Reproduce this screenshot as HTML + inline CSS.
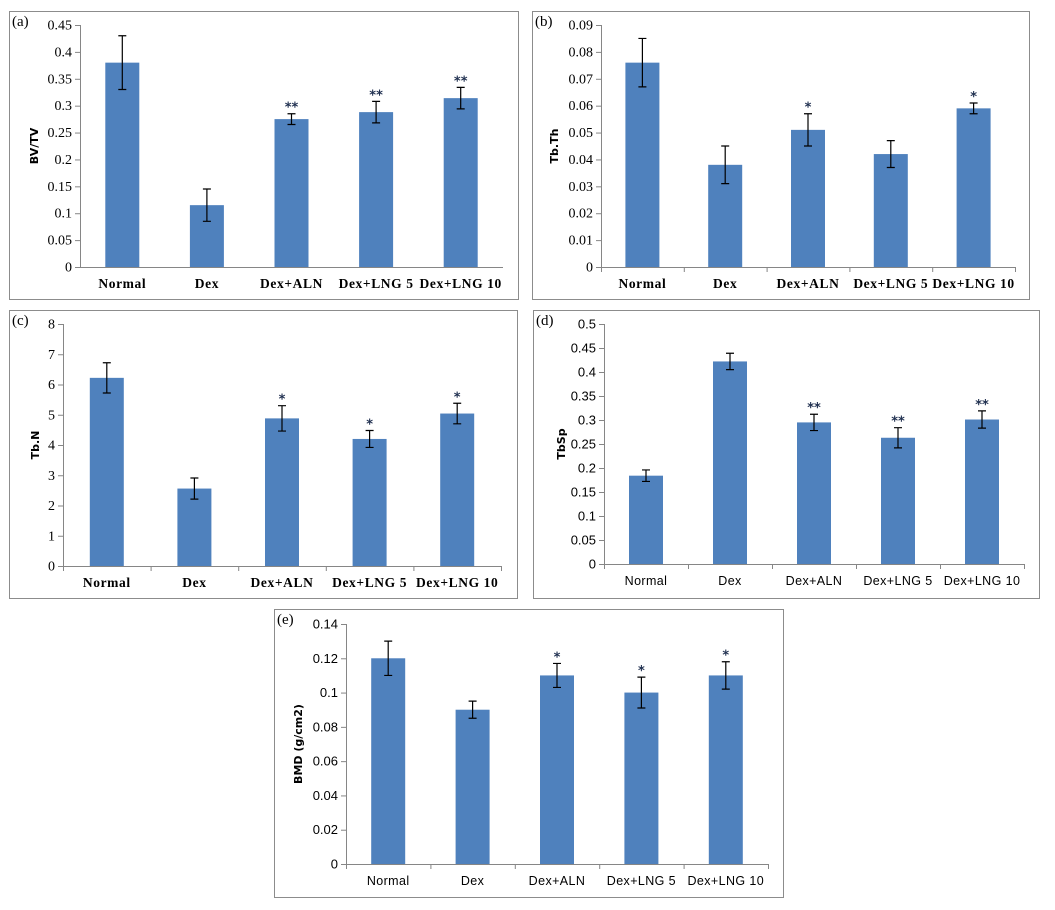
<!DOCTYPE html>
<html><head><meta charset="utf-8">
<style>
body{margin:0;background:#fff;width:1055px;height:910px;overflow:hidden}
svg{display:block}
</style></head>
<body>
<svg id="fig" width="1055" height="910" xmlns="http://www.w3.org/2000/svg"></svg>
<script>
const categories = ["Normal","Dex","Dex+ALN","Dex+LNG 5","Dex+LNG 10"];
const aValues = [0.38,0.115,0.275,0.288,0.314];
const aErr = [0.05,0.03,0.01,0.02,0.02];
const aStars = ["","","**","**","**"];
const aTicks = ["0","0.05","0.1","0.15","0.2","0.25","0.3","0.35","0.4","0.45"];
const bValues = [0.076,0.038,0.051,0.042,0.059];
const bErr = [0.009,0.007,0.006,0.005,0.002];
const bStars = ["","","*","","*"];
const bTicks = ["0","0.01","0.02","0.03","0.04","0.05","0.06","0.07","0.08","0.09"];
const cValues = [6.22,2.56,4.88,4.2,5.04];
const cErr = [0.5,0.35,0.42,0.28,0.34];
const cStars = ["","","*","*","*"];
const cTicks = ["0","1","2","3","4","5","6","7","8"];
const dValues = [0.184,0.422,0.295,0.263,0.301];
const dErr = [0.012,0.017,0.017,0.021,0.018];
const dStars = ["","","**","**","**"];
const dTicks = ["0","0.05","0.1","0.15","0.2","0.25","0.3","0.35","0.4","0.45","0.5"];
const eValues = [0.12,0.09,0.11,0.1,0.11];
const eErr = [0.01,0.005,0.007,0.009,0.008];
const eStars = ["","","*","*","*"];
const eTicks = ["0","0.02","0.04","0.06","0.08","0.1","0.12","0.14"];

const NS='http://www.w3.org/2000/svg';
const svg=document.getElementById('fig');
function mk(tag,attrs,parent){const e=document.createElementNS(NS,tag);for(const k in attrs)e.setAttribute(k,attrs[k]);(parent||svg).appendChild(e);return e;}

function panel(p){
  const g=mk('g',{});
  
  
  const box=mk('rect',{x:p.box[0]+0.5,y:p.box[1]+0.5,width:p.box[2]-p.box[0],height:p.box[3]-p.box[1],fill:'#fff',stroke:'#8c8c8c','stroke-width':1},g);
  
  
  const serif=p.serif;
  const ff=serif?"'Liberation Serif', serif":"'Liberation Sans', sans-serif";
  const lab=mk('text',{x:p.box[0]+3,y:p.box[1]+15,'font-family':"'Liberation Serif', serif",'font-size':15,fill:'#000'},g);
  lab.textContent='('+p.id+')';
  
  
  const x0=p.ax[0],yT=p.ax[1],yB=p.ax[2],x1=p.ax[3];
  const max=p.max;
  const y=v=>yB-(v/max)*(yB-yT);
  const band=(x1-x0)/categories.length;
  const xc=i=>x0+band*(i+0.5);
  const ya=mk('line',{x1:x0+0.5,y1:yT,x2:x0+0.5,y2:yB,stroke:'#868686'},g);
  
  
  p.ticks.forEach((t,i)=>{
    const v=max*i/(p.ticks.length-1);
    mk('line',{x1:x0-5,y1:y(v)+0.5,x2:x0,y2:y(v)+0.5,stroke:'#868686'},g);
    const tx=mk('text',{x:x0-8,y:y(v)+4.5,'text-anchor':'end','font-family':ff,'font-size':serif?14:13,fill:'#000'},g);
    tx.textContent=t;
    
    
  });
  p.values.forEach((v,i)=>{
    const r=mk('rect',{x:xc(i)-17,y:y(v),width:34,height:yB-y(v),fill:'#4f81bd'},g);
    
    
    const e=p.err[i],top=y(v+e),bot=y(v-e),c=xc(i);
    const eb=mk('path',{d:`M${c-4} ${top}H${c+4}M${c} ${top}V${bot}M${c-4} ${bot}H${c+4}`,stroke:'#000','stroke-width':1.2,fill:'none'},g);
    
    
    if(p.stars[i]){
      const s=mk('text',{x:c,y:top-2,'text-anchor':'middle','font-family':"'DejaVu Sans', sans-serif",'font-size':13,'font-weight':'bold',fill:'#203050'},g);
      s.textContent=p.stars[i];
      
      
    }
    const xl=mk('text',{x:c,y:yB+21,'text-anchor':'middle','font-family':ff,'font-size':serif?13.5:12.5,'font-weight':serif?'bold':'normal','letter-spacing':serif?'0.6':'0.4',fill:'#000'},g);
    xl.textContent=categories[i];
    
    
    if(p.xticks){mk('line',{x1:x0+band*(i+1)+0.5,y1:yB,x2:x0+band*(i+1)+0.5,y2:yB+5,stroke:'#868686'},g);}
  });
  const xa=mk('line',{x1:x0,y1:yB+0.5,x2:x1,y2:yB+0.5,stroke:'#868686'},g);
  
  
  if(p.xticks) mk('line',{x1:x0+0.5,y1:yB,x2:x0+0.5,y2:yB+5,stroke:'#868686'},g);
  const ty=(yT+yB)/2, tx=p.titleX;
  const tt=mk('text',{x:tx,y:ty,transform:`rotate(-90 ${tx} ${ty})`,'text-anchor':'middle','font-family':"'DejaVu Sans', sans-serif",'font-size':11,'font-weight':'bold',fill:'#000'},g);
  tt.textContent=p.title;
  
  
}
panel({id:'a',box:[9,11,518,299],ax:[80,25,267,503],max:0.45,ticks:aTicks,values:aValues,err:aErr,stars:aStars,title:'BV/TV',titleX:38,serif:true,xticks:false});
panel({id:'b',box:[532,11,1029,299],ax:[601,25,267,1015],max:0.09,ticks:bTicks,values:bValues,err:bErr,stars:bStars,title:'Tb.Th',titleX:558,serif:true,xticks:true});
panel({id:'c',box:[9,310,517,598],ax:[63,324,566,501],max:8,ticks:cTicks,values:cValues,err:cErr,stars:cStars,title:'Tb.N',titleX:39,serif:true,xticks:true});
panel({id:'d',box:[533,310,1039,598],ax:[604,324,564,1024],max:0.5,ticks:dTicks,values:dValues,err:dErr,stars:dStars,title:'TbSp',titleX:565,serif:false,xticks:true});
panel({id:'e',box:[274,609,783,897],ax:[346,624,864,768],max:0.14,ticks:eTicks,values:eValues,err:eErr,stars:eStars,title:'BMD (g/cm2)',titleX:302,serif:false,xticks:true});
</script>
</body></html>
